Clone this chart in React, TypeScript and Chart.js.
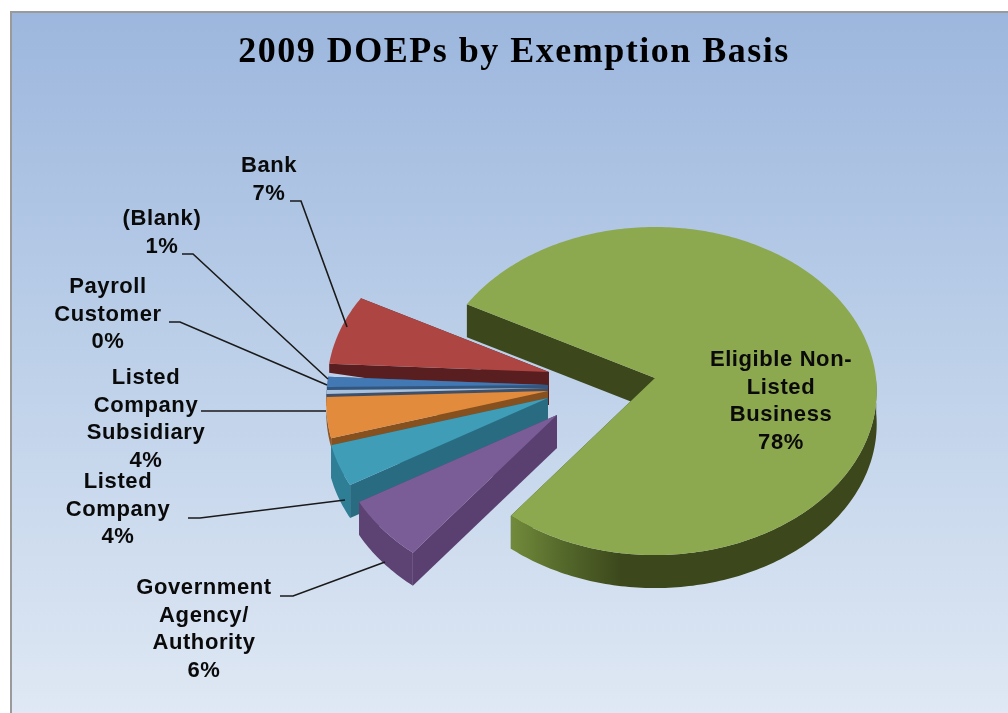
import React, { useEffect, useRef } from "react";
import { Chart, registerables } from "chart.js";

Chart.register(...registerables);

const categories = [
  "Eligible Non-Listed Business",
  "Government Agency/Authority",
  "Listed Company",
  "Listed Company Subsidiary",
  "Payroll Customer",
  "(Blank)",
  "Bank",
];
const shareValues = [78, 6, 4, 4, 0.4, 1, 7];
const percentLabels = ["78%", "6%", "4%", "4%", "0%", "1%", "7%"];
const wrappedNames = [
  ["Eligible Non-", "Listed", "Business"],
  ["Government", "Agency/", "Authority"],
  ["Listed", "Company"],
  ["Listed", "Company", "Subsidiary"],
  ["Payroll", "Customer"],
  ["(Blank)"],
  ["Bank"],
];
const topColors = ["#8DA94F", "#7A5C97", "#3F9DB8", "#E28B3C", "#A9C1DC", "#4278B4", "#AD4643"];
const wallColors = ["#3C481C", "#5A4070", "#296C82", "#87501F", "#3F5068", "#33567F", "#591E20"];
const rimColors = ["#3C481C", "#5D4373", "#2E7F96", "#8F5522", "#3F5068", "#33567F", "#6A2526"];
const chartTitle = "2009 DOEPs by Exemption Basis";

const PERSPECTIVE = 0.000359;
const TILT = 0.7376;
const DEPTH = 33;
const rimDepths = [33, 33, 33, 9, 9, 9, 9];
// Exploded-slice displacement from the pie centre, in screen pixels.
const explode = [[141, -7], [43, 30], [34, 13], [34, 6], [34, 3], [34, 0], [35, -13]];
const paintOrder = [6, 5, 4, 3, 2, 1, 0];
const labelAnchors = [[781, 360], [204, 588], [118, 482], [146, 378], [108, 287], [162, 219], [269, 166]];
const LINE_STEP = 27.6;
const leaders = [
  null,
  [[280, 596], [293, 596], [385, 562]],
  [[188, 518], [200, 518], [345, 500]],
  [[201, 411], [326, 411]],
  [[169, 322], [180, 322], [327, 385]],
  [[182, 254], [193, 254], [328, 379]],
  [[290, 201], [301, 201], [347, 327]],
];

const project = (ax: number, ay: number, angle: number, r: number) => {
  const u = r * Math.cos(angle);
  const v = r * Math.sin(angle);
  const w = 1 - PERSPECTIVE * v;
  return [ax + u / w, ay + (TILT * v) / w];
};

const poly = (ctx: CanvasRenderingContext2D, pts: number[][], fill: any) => {
  ctx.beginPath();
  pts.forEach((p, i) => (i ? ctx.lineTo(p[0], p[1]) : ctx.moveTo(p[0], p[1])));
  ctx.closePath();
  ctx.fillStyle = fill;
  ctx.fill();
};

const piePlugin = {
  id: "tiltedPie",
  beforeDraw(chart: any) {
    const { ctx, width, height } = chart;
    ctx.save();
    ctx.fillStyle = "#FFFFFF";
    ctx.fillRect(0, 0, width, height);
    const g = ctx.createLinearGradient(0, 11, 0, height);
    g.addColorStop(0, "#9CB6DD");
    g.addColorStop(0.45, "#BACEE8");
    g.addColorStop(1, "#DFE8F4");
    ctx.fillStyle = g;
    ctx.fillRect(11, 12, width - 11, height - 12);
    ctx.fillStyle = "#9A9A9A";
    ctx.fillRect(10, 11, width - 10, 2);
    ctx.fillRect(10, 11, 2, height - 11);
    ctx.restore();
    (ctx as any).letterSpacing = "1.5px";
  },
  beforeDatasetDraw(chart: any) {
    const { ctx } = chart;
    const arcs = chart.getDatasetMeta(0).data;
    const ds = chart.data.datasets[0];
    ctx.save();
    for (const i of paintOrder) {
      const el = arcs[i];
      const ax = el.x + explode[i][0];
      const ay = el.y + explode[i][1];
      const R = el.outerRadius;
      const a0 = el.startAngle;
      const a1 = el.endAngle;
      const steps = Math.max(3, Math.ceil((a1 - a0) * 60));
      const rim: number[][] = [];
      const frontRim: number[][] = [];
      for (let s = 0; s <= steps; s++) {
        const a = a0 + ((a1 - a0) * s) / steps;
        const p = project(ax, ay, a, R);
        rim.push(p);
        if (Math.sin(a) >= 0) frontRim.push(p);
      }
      const down = (p: number[], d = DEPTH) => [p[0], p[1] + d];
      const apex = [ax, ay];
      poly(ctx, [apex, rim[0], down(rim[0], rimDepths[i]), down(apex)], wallColors[i]);
      poly(ctx, [apex, rim[steps], down(rim[steps], rimDepths[i]), down(apex)], wallColors[i]);
      let rimFill: any = rimColors[i];
      if (i === 0) {
        const g = ctx.createLinearGradient(510, 0, 880, 0);
        g.addColorStop(0, "#728B3B");
        g.addColorStop(0.14, "#55692B");
        g.addColorStop(0.3, "#3C481C");
        g.addColorStop(1, "#3C481C");
        rimFill = g;
      }
      if (frontRim.length > 1) {
        poly(
          ctx,
          [...frontRim, ...frontRim.slice().reverse().map((p) => down(p, rimDepths[i]))],
          rimFill,
        );
      }
      poly(ctx, [apex, ...rim], ds.backgroundColor[i]);
    }
    ctx.restore();
    return false;
  },
  afterDatasetsDraw(chart: any) {
    const { ctx } = chart;
    ctx.save();
    ctx.strokeStyle = "#1A1A1A";
    ctx.lineWidth = 1.6;
    leaders.forEach((path) => {
      if (!path) return;
      ctx.beginPath();
      path.forEach((p, i) => (i ? ctx.lineTo(p[0], p[1]) : ctx.moveTo(p[0], p[1])));
      ctx.stroke();
    });
    ctx.fillStyle = "#0A0A0A";
    ctx.font = 'bold 22px "Liberation Sans"';
    ctx.textAlign = "center";
    ctx.textBaseline = "middle";
    (ctx as any).letterSpacing = "0.6px";
    wrappedNames.forEach((names, i) => {
      const [x, y] = labelAnchors[i];
      [...names, percentLabels[i]].forEach((t, n) => ctx.fillText(t, x, y + n * LINE_STEP));
    });
    ctx.restore();
  },
};

export default function App() {
  const ref = useRef<HTMLCanvasElement>(null);
  useEffect(() => {
    document.body.style.margin = "0";
    const chart = new Chart(ref.current as HTMLCanvasElement, {
      type: "pie",
      data: {
        labels: categories,
        datasets: [{ data: shareValues, backgroundColor: topColors, borderWidth: 0, radius: 221 } as any],
      },
      options: {
        animation: false,
        responsive: false,
        rotation: 298,
        layout: { padding: { left: 20, right: 0, top: 0, bottom: 43 } },
        plugins: {
          legend: { display: false },
          tooltip: { enabled: false },
          title: {
            display: true,
            text: chartTitle,
            color: "#000000",
            font: { family: '"Liberation Serif"', size: 36, weight: "bold", lineHeight: 1.2 },
            padding: { top: 31, bottom: 25.8 },
          },
        },
      } as any,
      plugins: [piePlugin as any],
    });
    return () => chart.destroy();
  }, []);
  return (
    <canvas
      ref={ref}
      width={1008}
      height={713}
      style={{ display: "block", width: 1008, height: 713, filter: "blur(0.6px)" }}
    />
  );
}
